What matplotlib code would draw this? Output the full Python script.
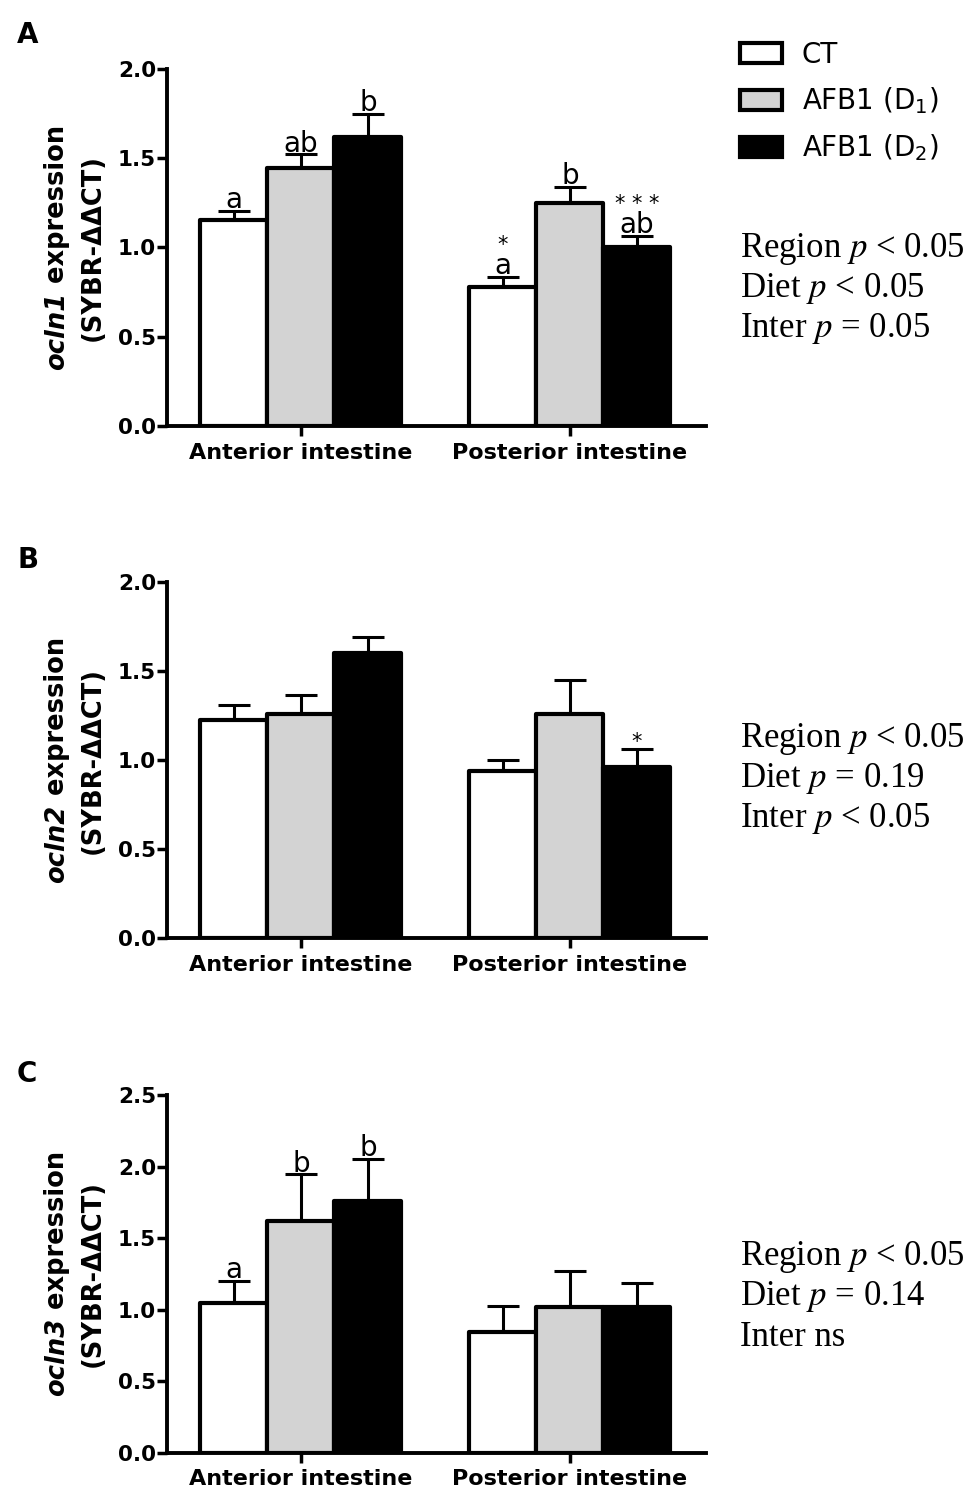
import matplotlib
matplotlib.use('Agg')
import matplotlib.pyplot as plt
import numpy as np

plt.rcParams['font.family'] = ['DejaVu Sans']
plt.rcParams['mathtext.fontset'] = 'custom'
plt.rcParams['mathtext.rm'] = 'DejaVu Sans'

# ---------------- data ----------------
groups = ['Anterior intestine', 'Posterior intestine']
series_labels = ['CT', r'AFB1 (D$_\mathregular{1}$)', r'AFB1 (D$_\mathregular{2}$)']
series_colors = ['white', '#d3d3d3', 'black']

ocln1_mean = [[1.154, 0.78], [1.447, 1.25], [1.62, 1.003]]
ocln1_err = [[0.05, 0.055], [0.075, 0.09], [0.13, 0.062]]
ocln2_mean = [[1.224, 0.938], [1.258, 1.258], [1.598, 0.962]]
ocln2_err = [[0.086, 0.062], [0.105, 0.19], [0.09, 0.098]]
ocln3_mean = [[1.044, 0.846], [1.621, 1.02], [1.761, 1.02]]
ocln3_err = [[0.158, 0.179], [0.324, 0.252], [0.294, 0.164]]

ocln1_letters = [(0, 0, 'a'), (1, 0, 'ab'), (2, 0, 'b'), (0, 1, 'a'), (1, 1, 'b'), (2, 1, 'ab')]
ocln1_stars = [(0, 1, '*'), (2, 1, '* * *')]
ocln2_letters = []
ocln2_stars = [(2, 1, '*')]
ocln3_letters = [(0, 0, 'a'), (1, 0, 'b'), (2, 0, 'b')]
ocln3_stars = []

ocln1_stats = ['Region $p$ < 0.05', 'Diet $p$ < 0.05', 'Inter $p$ = 0.05']
ocln2_stats = ['Region $p$ < 0.05', 'Diet $p$ = 0.19', 'Inter $p$ < 0.05']
ocln3_stats = ['Region $p$ < 0.05', 'Diet $p$ = 0.14', 'Inter ns']

genes = ['ocln1', 'ocln2', 'ocln3']
ylabel_rest = ' expression'
ylabel_line2 = '(SYBR-ΔΔCT)'
panel_letters = ['A', 'B', 'C']
ymaxes = [2.0, 2.0, 2.5]
yticks_list = [[0.0, 0.5, 1.0, 1.5, 2.0], [0.0, 0.5, 1.0, 1.5, 2.0], [0.0, 0.5, 1.0, 1.5, 2.0, 2.5]]

# ---------------- layout (pixels) ----------------
W, H = 971, 1496
fig = plt.figure(figsize=(W / 100, H / 100), dpi=100)
renderer = fig.canvas.get_renderer()

ax_left, ax_right = 167, 706
ax_tops = [69, 581.7, 1095]
ax_bottoms = [426, 938.3, 1452.7]
stat_x = 740
stat_baselines = [[257, 297, 337], [746.7, 786.7, 826.7], [1265, 1305, 1346]]
letter_baselines = [43, 568, 1082]

panels = [
    (ocln1_mean, ocln1_err, ocln1_letters, ocln1_stars, ocln1_stats),
    (ocln2_mean, ocln2_err, ocln2_letters, ocln2_stars, ocln2_stats),
    (ocln3_mean, ocln3_err, ocln3_letters, ocln3_stars, ocln3_stats),
]

bar_w = 0.249
LW = 3.0
YL_FS = 18.5

for p, (means, errs, letters, stars, stats) in enumerate(panels):
    top, bot = ax_tops[p], ax_bottoms[p]
    ax = fig.add_axes([ax_left / W, 1 - bot / H, (ax_right - ax_left) / W, (bot - top) / H])
    x = np.arange(len(groups))
    containers = []
    positions = []
    for i in range(3):
        pos = x + (i - 1) * bar_w
        positions.append(pos)
        bc = ax.bar(pos, means[i], bar_w, color=series_colors[i], edgecolor='black',
                    linewidth=LW, zorder=3)
        for b in bc:
            b.set_joinstyle('round')
        containers.append(bc)
        ax.errorbar(pos, means[i], yerr=[np.zeros(len(groups)), errs[i]], fmt='none',
                    ecolor='black', elinewidth=2.2, capsize=11.5, capthick=2.2, zorder=2)

    ax.set_xlim(-0.498, 1.506)
    ax.set_ylim(0, ymaxes[p])
    ax.set_yticks(yticks_list[p])
    ax.set_yticklabels(['%.1f' % t for t in yticks_list[p]], fontweight='bold', fontsize=15.5)
    ax.set_xticks(x)
    ax.set_xticklabels(groups, fontweight='bold', fontsize=16)
    for s in ['top', 'right']:
        ax.spines[s].set_visible(False)
    for s in ['left', 'bottom']:
        ax.spines[s].set_linewidth(2.8)
    ax.tick_params(axis='y', direction='out', length=7, width=2.5, pad=1)
    ax.tick_params(axis='x', direction='out', length=7, width=2.5, pad=5)

    for (i, g, t) in letters:
        ytop = means[i][g] + errs[i][g]
        ax.annotate(t, (positions[i][g], ytop), xytext=(0, 2), textcoords='offset points',
                    ha='center', va='baseline', fontsize=20)
    has_letter = {(i, g) for (i, g, _) in letters}
    for (i, g, t) in stars:
        ytop = means[i][g] + errs[i][g]
        off = 19 if (i, g) in has_letter else 1
        ax.annotate(t, (positions[i][g], ytop), xytext=(0, off), textcoords='offset points',
                    ha='center', va='baseline', fontsize=15)

    # y label: line 1 in two pieces (bold italic gene name + bold rest)
    yc_px = H - (top + bot) / 2
    t1 = fig.text(57 / W, 0.5, genes[p], rotation=90, ha='center', va='bottom',
                  fontsize=YL_FS, fontweight='bold', fontstyle='italic')
    t2 = fig.text(57 / W, 0.5, ylabel_rest, rotation=90, ha='center', va='bottom',
                  fontsize=YL_FS, fontweight='bold')
    L1 = t1.get_window_extent(renderer).height
    L2 = t2.get_window_extent(renderer).height
    y0 = yc_px - (L1 + L2) / 2
    t1.set_y(y0 / H)
    t2.set_y((y0 + L1) / H)
    fig.text(93 / W, yc_px / H, ylabel_line2, rotation=90, ha='center', va='center',
             fontsize=YL_FS, fontweight='bold')

    # panel letter
    fig.text(17 / W, 1 - letter_baselines[p] / H, panel_letters[p], fontsize=20,
             fontweight='bold', ha='left', va='baseline')

    # stats
    for k, s in enumerate(stats):
        fig.text(stat_x / W, 1 - stat_baselines[p][k] / H, s, fontfamily='Liberation Serif',
                 fontsize=25, ha='left', va='baseline', math_fontfamily='stix')

    if p == 0:
        ax.legend(containers, series_labels, loc='upper left',
                  bbox_to_anchor=(740 / W, 1 - 41 / H), bbox_transform=fig.transFigure,
                  frameon=False, fontsize=20, handlelength=1.51, handleheight=0.72,
                  handletextpad=0.72, labelspacing=0.59, borderpad=0, borderaxespad=0)

fig.savefig('out.png', dpi=100)
